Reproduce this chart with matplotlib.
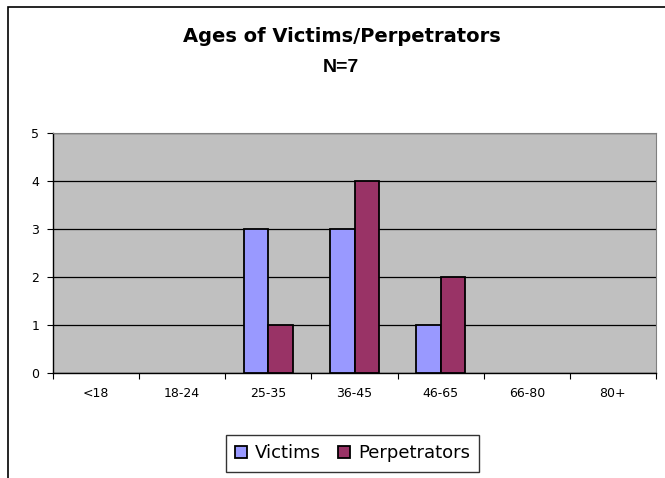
import matplotlib.pyplot as plt
import numpy as np
from matplotlib.patches import Rectangle, Patch

plt.rcParams['font.family'] = ['DejaVu Sans']

grupos = ['<18', '18-24', '25-35', '36-45', '46-65', '66-80', '80+']
victimas = [0, 0, 3, 3, 1, 0, 0]
perpetradores = [0, 0, 1, 4, 2, 0, 0]

color_vic = '#9999FF'
color_per = '#993366'

fig = plt.figure(figsize=(6.65, 4.78), dpi=100)
ax = fig.add_axes([53 / 665, 1 - 373 / 478, 603 / 665, 240 / 478])

# marco exterior del grafico (se corta a la derecha y abajo)
fig.patches.append(Rectangle((8 / 665, -0.1), 1.2, 1 - 7 / 478 + 0.1,
                             transform=fig.transFigure, fill=False,
                             edgecolor='black', linewidth=1.2))

x = np.arange(len(grupos))
ancho = 0.285
ax.set_facecolor('#C0C0C0')
b1 = ax.bar(x - ancho / 2, victimas, ancho, color=color_vic, edgecolor='black',
            linewidth=1.3, zorder=3)
b2 = ax.bar(x + ancho / 2, perpetradores, ancho, color=color_per, edgecolor='black',
            linewidth=1.3, zorder=3)

# las barras en cero no se dibujan
for barra in list(b1) + list(b2):
    if barra.get_height() == 0:
        barra.set_visible(False)

ax.set_xlim(-0.5, len(grupos) - 0.5)
ax.set_ylim(0, 5)
ax.set_yticks(range(6))
ax.yaxis.grid(True, color='black', linewidth=0.9, zorder=1)
ax.set_xticks(np.arange(len(grupos) + 1) - 0.5)
ax.set_xticklabels([])
ax.set_xticks(x, minor=True)
ax.set_xticklabels(grupos, minor=True, fontsize=9)
ax.tick_params(axis='x', which='minor', length=0, pad=10)
ax.tick_params(axis='x', which='major', length=4, width=0.8)
ax.tick_params(axis='y', length=4, width=0.8, labelsize=9, pad=6)

for lado in ['top', 'right']:
    ax.spines[lado].set_color('#808080')
for lado in ['left', 'bottom']:
    ax.spines[lado].set_color('black')
    ax.spines[lado].set_linewidth(1.0)

fig.text(342 / 665, 1 - 37 / 478, 'Ages of Victims/Perpetrators', ha='center',
         va='center', fontsize=14, fontweight='bold')
fig.text(341 / 665, 1 - 67 / 478, 'N=7', ha='center', va='center',
         fontsize=14, fontweight='bold', family='Liberation Sans')

manijas = [Patch(facecolor=color_vic, edgecolor='black', linewidth=1.3),
           Patch(facecolor=color_per, edgecolor='black', linewidth=1.3)]
leg = fig.legend(manijas, ['Victims', 'Perpetrators'], loc='center',
                 bbox_to_anchor=(352.5 / 665, 1 - 453.5 / 478),
                 ncol=2, fontsize=13, frameon=True, fancybox=False,
                 edgecolor='black', handlelength=0.67, handleheight=0.67,
                 handletextpad=0.44, columnspacing=0.95, borderpad=0.5)
leg.get_frame().set_linewidth(1.0)

plt.savefig('out.png', dpi=100)
